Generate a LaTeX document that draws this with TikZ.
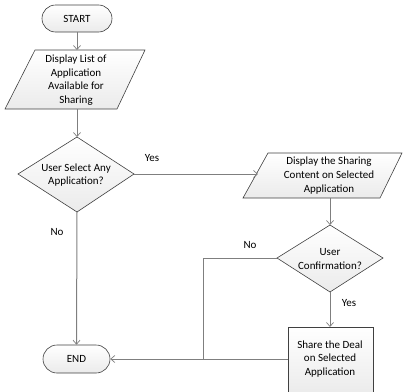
\documentclass[tikz,border=0pt]{standalone}
\usepackage{fontspec}
\setmainfont{Carlito}
\usetikzlibrary{arrows.meta,shapes.geometric}
\definecolor{edgec}{HTML}{404040}
\definecolor{linec}{HTML}{7F7F7F}
\tikzset{
  shp/.style={draw=edgec,line width=0.6pt,top color=white,bottom color=black!8,font=\fontsize{11}{13.7}\selectfont,align=center,inner sep=0pt},
  conn/.style={draw=linec,line width=1pt,-{Straight Barb[length=4pt,width=7pt,line width=0.7pt]}},
  plain/.style={draw=linec,line width=1pt},
  lbl/.style={font=\fontsize{11}{13.7}\selectfont,inner sep=0pt},
}
\begin{document}
\begin{tikzpicture}[x=1pt,y=-1pt]
\useasboundingbox (0,0) rectangle (406,391);
% START
\node[shp,rounded corners=13.5pt,minimum width=70pt,minimum height=27pt] (start) at (77,18.5) {START};
% parallelogram 1
\path[shp] (35,50) -- (145,50) -- (117,109) -- (5,109) -- cycle;
\node[lbl,align=center] (p1) at (76,80) {Display List of\\Application\\Available for\\Sharing};
\coordinate (p1t) at (77,50);
\coordinate (p1b) at (77,109);
% diamond 1
\path[shp] (77,137) -- (134,174) -- (77,212) -- (18,174) -- cycle;
\node[lbl,align=center] (d1) at (76,175) {User Select Any\\Application?};
\coordinate (d1t) at (77,137);
\coordinate (d1r) at (134,174);
\coordinate (d1b) at (77,212);
% parallelogram 2
\path[shp] (268,153) -- (402,153) -- (380,198) -- (243,198) -- cycle;
\node[lbl,align=center] (p2) at (329,175.5) {Display the Sharing\\Content on Selected\\Application};
\coordinate (p2l) at (258,174);
\coordinate (p2b) at (330,198);
% diamond 2
\path[shp] (330,225) -- (383,258) -- (330,292) -- (277,258) -- cycle;
\node[lbl,align=center] (d2) at (330,259) {User\\Confirmation?};
\coordinate (d2t) at (330,225);
\coordinate (d2l) at (277,258);
\coordinate (d2b) at (330,292);
% share box
\path[shp] (288,327) rectangle (373,395);
\node[lbl,align=center] (sh) at (330,359) {Share the Deal\\on Selected\\Application};
\coordinate (shl) at (288,359);
\coordinate (sht) at (330,327);
% END
\node[shp,rounded corners=14pt,minimum width=67pt,minimum height=28pt] (end) at (76.5,359) {END};
% connectors
\draw[conn] (start.south) -- (p1t);
\draw[conn] (p1b) -- (d1t);
\draw[conn] (d1r) -- (p2l);
\draw[conn] (d1b) -- (end.north);
\draw[conn] (p2b) -- (d2t);
\draw[conn] (d2b) -- (sht);
\coordinate (jx) at (203,359);
\draw[plain] (d2l) -- (203,258) -- (jx);
\draw[conn] (shl) -- (end.east);
% labels
\node[lbl] (yes1) at (152,158) {Yes};
\node[lbl] (no1) at (57,232) {No};
\node[lbl] (no2) at (250,245) {No};
\node[lbl] (yes2) at (349,303) {Yes};
\end{tikzpicture}
\end{document}
